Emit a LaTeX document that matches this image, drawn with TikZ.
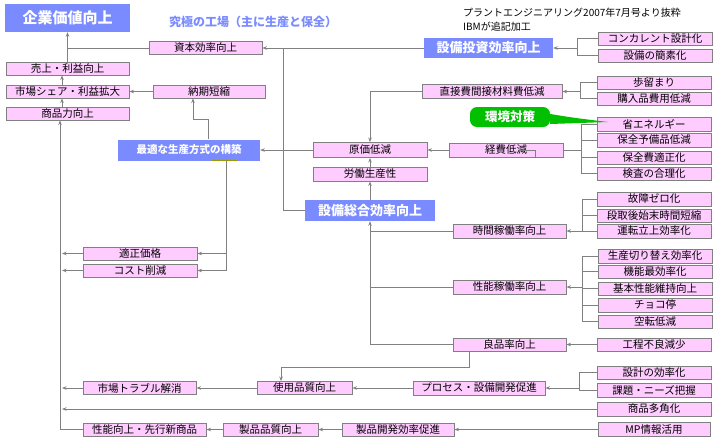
\documentclass[tikz,border=0pt]{standalone}
\usepackage{fontspec}
\setmainfont{Noto Sans CJK JP}
\usetikzlibrary{arrows.meta}
\definecolor{boxpink}{RGB}{255,204,255}
\definecolor{linegray}{RGB}{128,128,128}
\definecolor{headblue}{RGB}{122,139,255}
\definecolor{ecogreen}{RGB}{0,192,0}
\definecolor{barolive}{RGB}{153,153,0}

\begin{document}
\begin{tikzpicture}[x=1pt,y=-1pt,
    box/.style={draw=linegray,line width=0.9pt,fill=boxpink,minimum width=114pt,minimum height=13pt,inner sep=0pt,font=\fontsize{10.5}{12}\selectfont},
    head/.style={fill=headblue,text=white,inner sep=0pt,font=\bfseries\fontsize{13}{15}\selectfont},
    link/.style={draw=linegray,line width=0.9pt},
    arr/.style={link,-{Stealth[length=4.5pt,width=3.5pt]}}]
      \useasboundingbox (0,0) rectangle (719,442);

      % titles
      \node[head,minimum width=125pt,minimum height=28pt,font=\bfseries\fontsize{15}{17}\selectfont] (top) at (67.5,18) {企業価値向上};
      \node[text=headblue,inner sep=0pt,font=\bfseries\fontsize{12}{14}\selectfont] (ideal) at (253,22) {究極の工場（主に生産と保全）};
      \node[anchor=west,inner sep=0pt,font=\fontsize{10}{12}\selectfont] (src1) at (463,13) {プラントエンジニアリング2007年7月号より抜粋};
      \node[anchor=west,inner sep=0pt,font=\fontsize{10}{12}\selectfont] (src2) at (463,27) {IBMが追記加工};

      % left column
      \node[box,minimum width=113pt] (capital) at (205.5,48) {資本効率向上};
      \node[box,minimum width=123pt] (sales) at (67.5,68.5) {売上・利益向上};
      \node[box,minimum width=123pt] (share) at (67.5,91.5) {市場シェア・利益拡大};
      \node[box,minimum width=112pt] (leadtime) at (209,91.5) {納期短縮};
      \node[box,minimum width=123pt] (product) at (67.5,113.5) {商品力向上};

      % investment
      \node[head,minimum width=129pt,minimum height=20pt] (equipinv) at (488.5,48) {設備投資効率向上};
      \node[box] (concur) at (655,38.5) {コンカレント設計化};
      \node[box] (simple) at (655,55.5) {設備の簡素化};

      % cost
      \node[box,minimum width=140pt,minimum height=14pt] (material) at (492,91.5) {直接費間接材料費低減};
      \node[box] (yield) at (654,82.5) {歩留まり};
      \node[box] (purchase) at (654,98.5) {購入品費用低減};
      \node[fill=ecogreen,rounded corners=7pt,minimum width=80pt,minimum height=20pt,inner sep=0pt,text=white,font=\bfseries\fontsize{12.5}{14}\selectfont] (eco) at (510,117) {環境対策};
      \node[box,minimum height=14pt] (energy) at (654,124.5) {省エネルギー};
      \node[box,minimum height=14pt] (spares) at (654,140) {保全予備品低減};
      \node[box] (maintcost) at (654,157.5) {保全費適正化};
      \node[box] (inspect) at (654,173.5) {検査の合理化};
      \node[box,minimum height=14pt] (expense) at (506,150) {経費低減};
      \node[box,minimum height=15pt] (costdown) at (370,150) {原価低減};
      \node[box,minimum height=14pt] (labour) at (370,174) {労働生産性};
      \node[head,minimum width=130pt,minimum height=21pt] (oee) at (370,210.5) {設備総合効率向上};
      \node[head,minimum width=142pt,minimum height=21pt,font=\bfseries\fontsize{10.5}{12}\selectfont] (bestway) at (189,150) {最適な生産方式の構築};
      \node[box] (price) at (140,253.5) {適正価格};
      \node[box] (costcut) at (140,270.5) {コスト削減};

      % availability
      \node[box,minimum width=113pt,minimum height=14pt] (uptime) at (509.5,231) {時間稼働率向上};
      \node[box,minimum height=14pt] (zerofail) at (654,199) {故障ゼロ化};
      \node[box] (setup) at (654,215.5) {段取後始末時間短縮};
      \node[box,minimum height=14pt] (startup) at (654,231) {運転立上効率化};

      % performance
      \node[box,minimum height=14pt] (changeover) at (655,256) {生産切り替え効率化};
      \node[box] (function) at (655,271.5) {機能最効率化};
      \node[box] (basic) at (655,288.5) {基本性能維持向上};
      \node[box,minimum height=14pt] (stops) at (655,305) {チョコ停};
      \node[box] (idling) at (655,321.5) {空転低減};
      \node[box,minimum width=113pt,minimum height=14pt] (perf) at (509.5,287) {性能稼働率向上};

      % quality
      \node[box,minimum width=113pt] (quality) at (509.5,344.5) {良品率向上};
      \node[box] (defects) at (654,344.5) {工程不良減少};
      \node[box,minimum width=95pt] (usequal) at (304.5,388) {使用品質向上};
      \node[box,minimum width=132pt,minimum height=14pt] (process) at (479,388) {プロセス・設備開発促進};
      \node[box] (design) at (654,372.5) {設計の効率化};
      \node[box,minimum height=14pt] (needs) at (654,390) {課題・ニーズ把握};
      \node[box,minimum width=113pt] (trouble) at (139.5,388) {市場トラブル解消};
      \node[box,minimum height=14pt] (diverse) at (654,409) {商品多角化};
      \node[box,minimum width=112pt,minimum height=14pt] (mpinfo) at (654,429.5) {MP情報活用};
      \node[box,minimum width=112pt] (devel) at (398,429.5) {製品開発効率促進};
      \node[box,minimum width=95pt] (prodqual) at (270.5,429.5) {製品品質向上};
      \node[box,minimum width=123pt] (newprod) at (144.5,429.5) {性能向上・先行新商品};

      \coordinate (spine) at (60,429.5);
      \coordinate (col) at (62,0);
      \coordinate (bus) at (283,48);
      \coordinate (bend1) at (193,119);
      \coordinate (bend2) at (281,367);
      \coordinate (brInv) at (577,48);
      \coordinate (brMat) at (580,91.5);
      \coordinate (brExp) at (581,150);
      \coordinate (brUp) at (582,231);
      \coordinate (brPerf) at (582,287);
      \coordinate (brProc) at (579,388);
      \coordinate (ecoTip) at (608,122);

      \fill[ecogreen] ([yshift=3pt]eco.east) .. controls (575,118) .. (ecoTip) -- ([yshift=-7pt]eco.east) -- cycle;  % callout tail

\draw[arr] (sales.north) -- (top.south);
      \draw[link] (capital.west) -- (capital.west -| top.south);
      \draw[arr] (share.north -| col) -- (sales.south -| col);
      \draw[arr] (product.north -| col) -- (share.south -| col);
      \draw[arr] (leadtime.west) -- (share.east);
      \draw[arr] ([xshift=19pt]bestway.north) |- (bend1) -- (bend1 |- leadtime.south);
      \draw[arr] (equipinv.west) -- (capital.east);
      \draw[link] (oee.west) -| (bus);
      \draw[link] (concur.west) -| (brInv) |- (simple.west);  % bracket to investment
      \draw[arr] (brInv) -- (equipinv.east);

      \draw[link] (yield.west) -| (brMat) |- (purchase.west);  % bracket to material cost
      \draw[arr] (brMat) -- (material.east);
      \draw[arr] (material.west) -| (costdown.north);
      \draw[link] (energy.west) -| (brExp) |- (inspect.west);  % bracket to expenses
      \draw[link] (spares.west) -- (spares.west -| brExp);
      \draw[link] (maintcost.west) -- (maintcost.west -| brExp);
      \draw[link] (brExp) -- (expense.east);
      \draw[link] ([xshift=14pt]expense.center) -- ([xshift=29pt]expense.center) -- ([xshift=29pt]expense.south);
      \draw[arr] (expense.west) -- (costdown.east);
      \draw[arr] (costdown.west) -- (bestway.east);
      \draw[arr] (labour.north) -- (costdown.south);
      \draw[arr] (oee.north) -- (labour.south);

      \draw[barolive,line width=1pt] ([xshift=23pt]bestway.south) -- ([xshift=49pt]bestway.south);
      \draw[arr] ([xshift=37pt]bestway.south) |- (price.east);
      \draw[arr] ([xshift=37pt]bestway.south) |- (costcut.east);
      \draw[arr] (price.west) -- (price.west -| col);
      \draw[arr] (costcut.west) -- (costcut.west -| col);

      \draw[link] (zerofail.west) -| (brUp) |- (startup.west);  % bracket to availability
      \draw[link] (setup.west) -- (setup.west -| brUp);
      \draw[arr] (brUp) -- (uptime.east);
      \draw[link] (changeover.west) -| (brPerf) |- (idling.west);  % bracket to performance
      \draw[link] (function.west) -- (function.west -| brPerf);
      \draw[link] (basic.west) -- (basic.west -| brPerf);
      \draw[link] (stops.west) -- (stops.west -| brPerf);
      \draw[arr] (brPerf) -- (perf.east);
      \draw[arr] (defects.west) -- (quality.east);
      \draw[arr] (quality.west) -| (oee.south);
      \draw[link] (uptime.west) -- (uptime.west -| oee.south);
      \draw[link] (perf.west) -- (perf.west -| oee.south);

      \draw[arr] ([xshift=-40.5pt]quality.south) |- (bend2) -- (bend2 |- usequal.north);
      \draw[link] (design.west) -| (brProc) |- (needs.west);  % bracket to process
      \draw[arr] (brProc) -- (process.east);
      \draw[arr] (process.west) -- (usequal.east);
      \draw[arr] (usequal.west) -- (trouble.east);
      \draw[arr] (trouble.west) -- (trouble.west -| col);
      \draw[arr] (diverse.west) -- (diverse.west -| col);
      \draw[arr] (mpinfo.west) -- (devel.east);
      \draw[arr] (devel.west) -- (prodqual.east);
      \draw[arr] (prodqual.west) -- (newprod.east);
      \draw[arr] (newprod.west) -- (spine) -- (spine |- product.south);  % main line up
    \end{tikzpicture}
\end{document}
